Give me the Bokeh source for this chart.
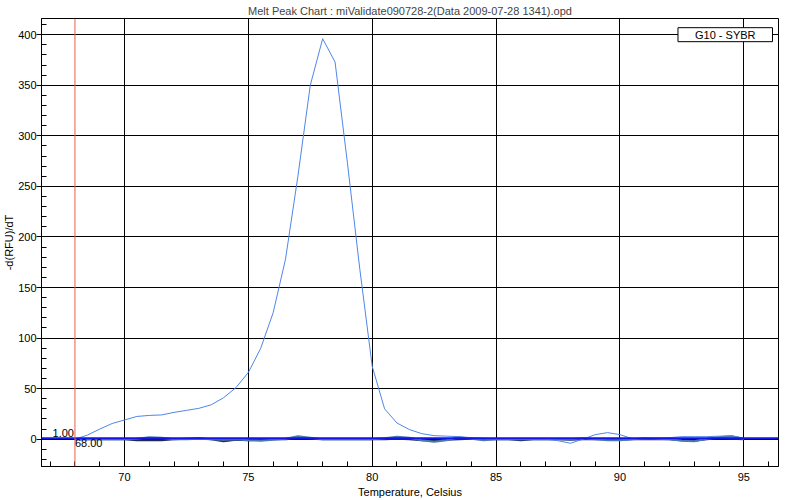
from bokeh.plotting import figure
from bokeh.models import Range1d, Span, Label, FixedTicker
from bokeh.embed import file_html
from bokeh.resources import INLINE

title_text = "Melt Peak Chart : miValidate090728-2(Data 2009-07-28 1341).opd"
x_label = "Temperature, Celsius"
y_label = "-d(RFU)/dT"
legend_text = "G10 - SYBR"

temps = [68.0, 68.5, 69.0, 69.5, 70.0, 70.5, 71.0, 71.5, 72.0, 72.5,
         73.0, 73.5, 74.0, 74.5, 75.0, 75.5, 76.0, 76.5, 77.0, 77.5,
         78.0, 78.5, 79.0, 79.5, 80.0, 80.5, 81.0, 81.5, 82.0, 82.5,
         83.0, 83.5, 84.0, 84.5, 85.0, 85.5, 86.0, 86.5, 87.0, 87.5,
         88.0, 88.5, 89.0, 89.5, 90.0, 90.5, 91.0, 91.5, 92.0, 92.5,
         93.0, 93.5, 94.0, 94.5, 95.0]

g10_values = [0, 4, 10, 15.5, 19, 22.5, 23.5, 24, 26.5, 28.5,
              30.5, 34, 41, 51, 66, 90, 125, 178, 260, 350,
              396, 373, 273, 168, 72, 30, 16, 9.5, 5.5, 3.5,
              3, 2.5, 1.5, 1, 0.5, 0, 0, 0, 0, -1.5,
              -4, 0, 4.5, 6.5, 4.5, 0.5, 0.5, 1, 1.5, 2.5,
              2.5, 2.5, 3, 3.5, 1]

other_a_values = [0, 0, 0, 0, 0, 0.5, 2, 1.5, 0, 0,
                  0.5, 0, -0.5, 0, -1, -1.5, -0.5, 0.5, 3, 1.5,
                  0, 0, 0, 0, 0, 1, 2.5, 1.5, -1, -2.5,
                  -1, 2, 0.5, -1, 0, 0, 0, 0, 0, 0,
                  0, 1, 0, -1, -1, 0, 1, 0.5, 0, -1.5,
                  -2, 0.5, 2, 3, 0.5]

other_b_values = [0, 0, 0, 0, 0, -1, -1, -1, 0, 0.5,
                  1, 0, -2, -0.5, -1, -0.5, 0, 0, 1, 0.5,
                  0, 0, 0, 0, 0, 0, 0.5, 0, -1, -1.5,
                  -0.5, 0, 0.5, 0, 0, 0, -1, 0, 0, 0,
                  -0.5, 0, 0, 0, -0.5, 0, 0, 0, 0, -1,
                  -1.5, 0, 1, 0.5, 0]

threshold = 1.00
start_temp = 68.00

x_ticks = [70, 75, 80, 85, 90, 95]
y_ticks = [0, 50, 100, 150, 200, 250, 300, 350, 400]
x_minor = list(range(67, 97))
y_minor = list(range(-20, 411, 10))

FONT = "Liberation Sans"

p = figure(width=800, height=500, output_backend="svg", toolbar_location=None,
           x_range=Range1d(66.65, 96.4), y_range=Range1d(-27, 416),
           min_border_left=0, min_border_right=22, min_border_top=0, min_border_bottom=0,
           background_fill_color="white", border_fill_color="white")

p.title.text = title_text
p.title.align = "center"
p.title.text_font = FONT
p.title.text_font_size = "11px"
p.title.text_font_style = "normal"
p.title.standoff = 4
p.title.offset = 0

p.outline_line_color = "black"
p.outline_line_width = 1

for ax in (p.xaxis[0], p.yaxis[0]):
    ax.axis_line_color = "black"
    ax.major_tick_line_color = "black"
    ax.minor_tick_line_color = "black"
    ax.major_label_text_font = FONT
    ax.major_label_text_font_size = "11px"
    ax.major_label_text_color = "black"
    ax.axis_label_text_font = FONT
    ax.axis_label_text_font_size = "11px"
    ax.axis_label_text_font_style = "normal"
    ax.axis_label_text_color = "black"
    ax.minor_tick_in = 5
    ax.minor_tick_out = 0
    ax.major_tick_in = 0

p.xaxis[0].ticker = FixedTicker(ticks=x_ticks, minor_ticks=x_minor)
p.yaxis[0].ticker = FixedTicker(ticks=y_ticks, minor_ticks=y_minor)
p.xaxis.axis_label = x_label
p.yaxis.axis_label = y_label
p.xaxis.major_tick_out = 0
p.yaxis.major_tick_out = 5
p.xaxis.major_label_standoff = 6
p.yaxis.major_label_standoff = 0
p.xaxis.axis_label_standoff = 2
p.yaxis.axis_label_standoff = 0

p.xgrid.grid_line_color = "black"
p.ygrid.grid_line_color = "black"
p.xgrid.grid_line_width = 1
p.ygrid.grid_line_width = 1

p.line(temps, other_b_values, line_color="#1c2a55", line_width=2)
p.line(temps, other_a_values, line_color="#4a78b0", line_width=2)
p.line(temps, g10_values, line_color="#4f86e8", line_width=1)

p.add_layout(Span(location=threshold, dimension="width", line_color="#1414e6", line_width=2))
p.add_layout(Span(location=start_temp, dimension="height", line_color="#e8604c", line_width=1))

p.add_layout(Label(x=start_temp, y=threshold, text=f"{threshold:.2f}", text_align="right",
                   text_baseline="bottom", x_offset=-1, y_offset=1,
                   text_font=FONT, text_font_size="11px", text_color="black"))
p.add_layout(Label(x=start_temp, y=threshold, text=f"{start_temp:.2f}", text_align="left",
                   text_baseline="top", x_offset=0, y_offset=-1,
                   text_font=FONT, text_font_size="11px", text_color="black"))

p.add_layout(Label(x=94.25, y=400, text=legend_text, text_align="center",
                   text_baseline="middle", text_font=FONT, text_font_size="11px",
                   text_color="black", border_line_color="black", border_line_width=1,
                   background_fill_color="white", padding=(17, 17, 1, 1)))

open("out.html", "w").write(file_html(p, INLINE))
